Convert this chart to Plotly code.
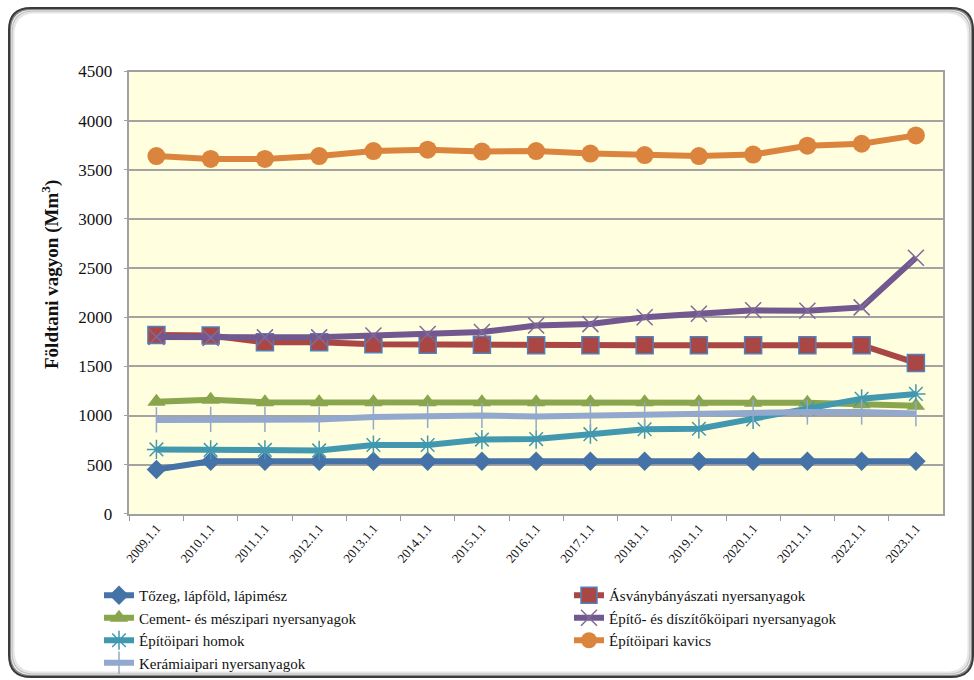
import plotly.graph_objects as go

W, H = 974, 680

years = ["2009.1.1", "2010.1.1", "2011.1.1", "2012.1.1", "2013.1.1", "2014.1.1",
         "2015.1.1", "2016.1.1", "2017.1.1", "2018.1.1", "2019.1.1", "2020.1.1",
         "2021.1.1", "2022.1.1", "2023.1.1"]

tozeg = [450, 535, 535, 535, 535, 535, 535, 535, 535, 535, 535, 535, 535, 535, 535]
asvany = [1820, 1815, 1745, 1745, 1725, 1720, 1720, 1715, 1715, 1715, 1715, 1715, 1715, 1715, 1535]
cement = [1140, 1160, 1135, 1135, 1135, 1135, 1135, 1135, 1135, 1135, 1135, 1130, 1130, 1115, 1100]
diszito = [1800, 1790, 1795, 1795, 1815, 1830, 1850, 1915, 1930, 2000, 2035, 2070, 2065, 2100, 2605]
homok = [655, 650, 650, 645, 700, 700, 755, 760, 810, 860, 865, 960, 1070, 1170, 1220]
kavics = [3640, 3610, 3610, 3640, 3690, 3705, 3685, 3690, 3665, 3650, 3640, 3655, 3745, 3765, 3850]
keramia = [955, 960, 960, 960, 985, 1000, 1000, 990, 1000, 1005, 1020, 1035, 1035, 1035, 1020]

y_ticks = [0, 500, 1000, 1500, 2000, 2500, 3000, 3500, 4000, 4500]
y_title = "<b>Földtani vagyon (Mm<sup>3</sup>)</b>"

FONT = "Liberation Serif"
LW = 6

series = [
    # name, values, line colour, marker, legend column
    ("Tőzeg, lápföld, lápimész", tozeg, "#4572A7",
     dict(symbol="diamond", size=15, color="#4572A7"), "legend"),
    ("Ásványbányászati nyersanyagok", asvany, "#AA4643",
     dict(symbol="square", size=17, color="#AA4643",
          line=dict(color="#4F81BD", width=1.5)), "legend2"),
    ("Cement- és mészipari nyersanyagok", cement, "#89A54E",
     dict(symbol="triangle-up", size=16, color="#89A54E"), "legend"),
    ("Építő- és díszítőköipari nyersanyagok", diszito, "#71588F",
     dict(symbol="x-thin-open", size=16, color="#80699B",
          line=dict(color="#80699B", width=1.5)), "legend2"),
    ("Építöipari homok", homok, "#4198AF",
     dict(symbol="asterisk-open", size=16, color="#4198AF",
          line=dict(color="#4198AF", width=1.5)), "legend"),
    ("Építöipari kavics", kavics, "#DB843D",
     dict(symbol="circle", size=18, color="#DB843D"), "legend2"),
    ("Kerámiaipari nyersanyagok", keramia, "#92A8CD",
     dict(symbol="line-ns-open", size=18, color="#92A8CD",
          line=dict(color="#92A8CD", width=1.5)), "legend"),
]

fig = go.Figure()
for name, vals, col, mk, lg in series:
    fig.add_trace(go.Scatter(
        x=years, y=vals, name=name, mode="lines+markers",
        line=dict(color=col, width=LW), marker=mk, legend=lg,
    ))

# plot area edges, in pixels
px_l, px_r, px_t, px_b = 129.3, 943, 71.5, 513.8


def fx(p):
    return p / W


def fy(p):
    return 1 - p / H


def frame_path(x0, y0, x1, y1, r):
    rx, ry = r / W, r / H
    X0, X1, Y0, Y1 = fx(x0), fx(x1), fy(y0), fy(y1)
    return (f"M{X0+rx},{Y0} L{X1-rx},{Y0} Q{X1},{Y0} {X1},{Y0-ry} "
            f"L{X1},{Y1+ry} Q{X1},{Y1} {X1-rx},{Y1} L{X0+rx},{Y1} "
            f"Q{X0},{Y1} {X0},{Y1+ry} L{X0},{Y0-ry} Q{X0},{Y0} {X0+rx},{Y0} Z")


# rounded outer frame with a soft inner shadow
shapes = []
for off, colr, wd in [(4.5, "#e6e6e6", 2), (3, "#c4c4c4", 1.5), (1.2, "#8a8a8a", 1.5), (0, "#3a3a3a", 2)]:
    shapes.append(dict(type="path", xref="paper", yref="paper",
                       path=frame_path(9 + off, 8 + off, 973 - off, 677 - off, 22),
                       line=dict(color=colr, width=wd), layer="below"))

legend_font = dict(family=FONT, size=15, color="#111")

fig.update_layout(
    width=W, height=H,
    margin=dict(l=0, r=0, t=0, b=0, autoexpand=False),
    paper_bgcolor="white",
    plot_bgcolor="#FFFEDE",
    font=dict(family=FONT, color="#111111"),
    shapes=shapes,
    annotations=[dict(text=y_title, textangle=-90, xref="paper", yref="paper",
                      x=fx(50), y=fy(275), xanchor="center", yanchor="middle",
                      showarrow=False,
                      font=dict(family=FONT, size=19, color="#111"))],
    showlegend=True,
    legend=dict(x=fx(99), y=fy(579), xanchor="left", yanchor="top",
                orientation="v", font=legend_font,
                bgcolor="rgba(0,0,0,0)", traceorder="normal"),
    legend2=dict(x=fx(569), y=fy(579), xanchor="left", yanchor="top",
                 orientation="v", font=legend_font,
                 bgcolor="rgba(0,0,0,0)", traceorder="normal"),
    xaxis=dict(
        domain=[fx(px_l), fx(px_r)], automargin=False,
        type="category", range=[-0.5, len(years) - 0.5],
        tickangle=-50, tickson="boundaries",
        ticks="outside", ticklen=5, tickcolor="#9a9a9a",
        tickfont=dict(family=FONT, size=13, color="#111"),
        showline=True, linecolor="#a0a0a0", linewidth=1.5, mirror=True,
        showgrid=False, zeroline=False,
    ),
    yaxis=dict(
        domain=[fy(px_b), fy(px_t)], automargin=False,
        range=[0, 4500], tickvals=y_ticks,
        ticks="outside", ticklen=4, tickcolor="#a0a0a0",
        tickfont=dict(family=FONT, size=17, color="#111"),
        ticklabelstandoff=8,
        showline=True, linecolor="#a0a0a0", linewidth=1.5, mirror=True,
        showgrid=True, gridcolor="#a3a3a3", gridwidth=1.5, zeroline=False,
    ),
)

fig.write_html("out.html")
